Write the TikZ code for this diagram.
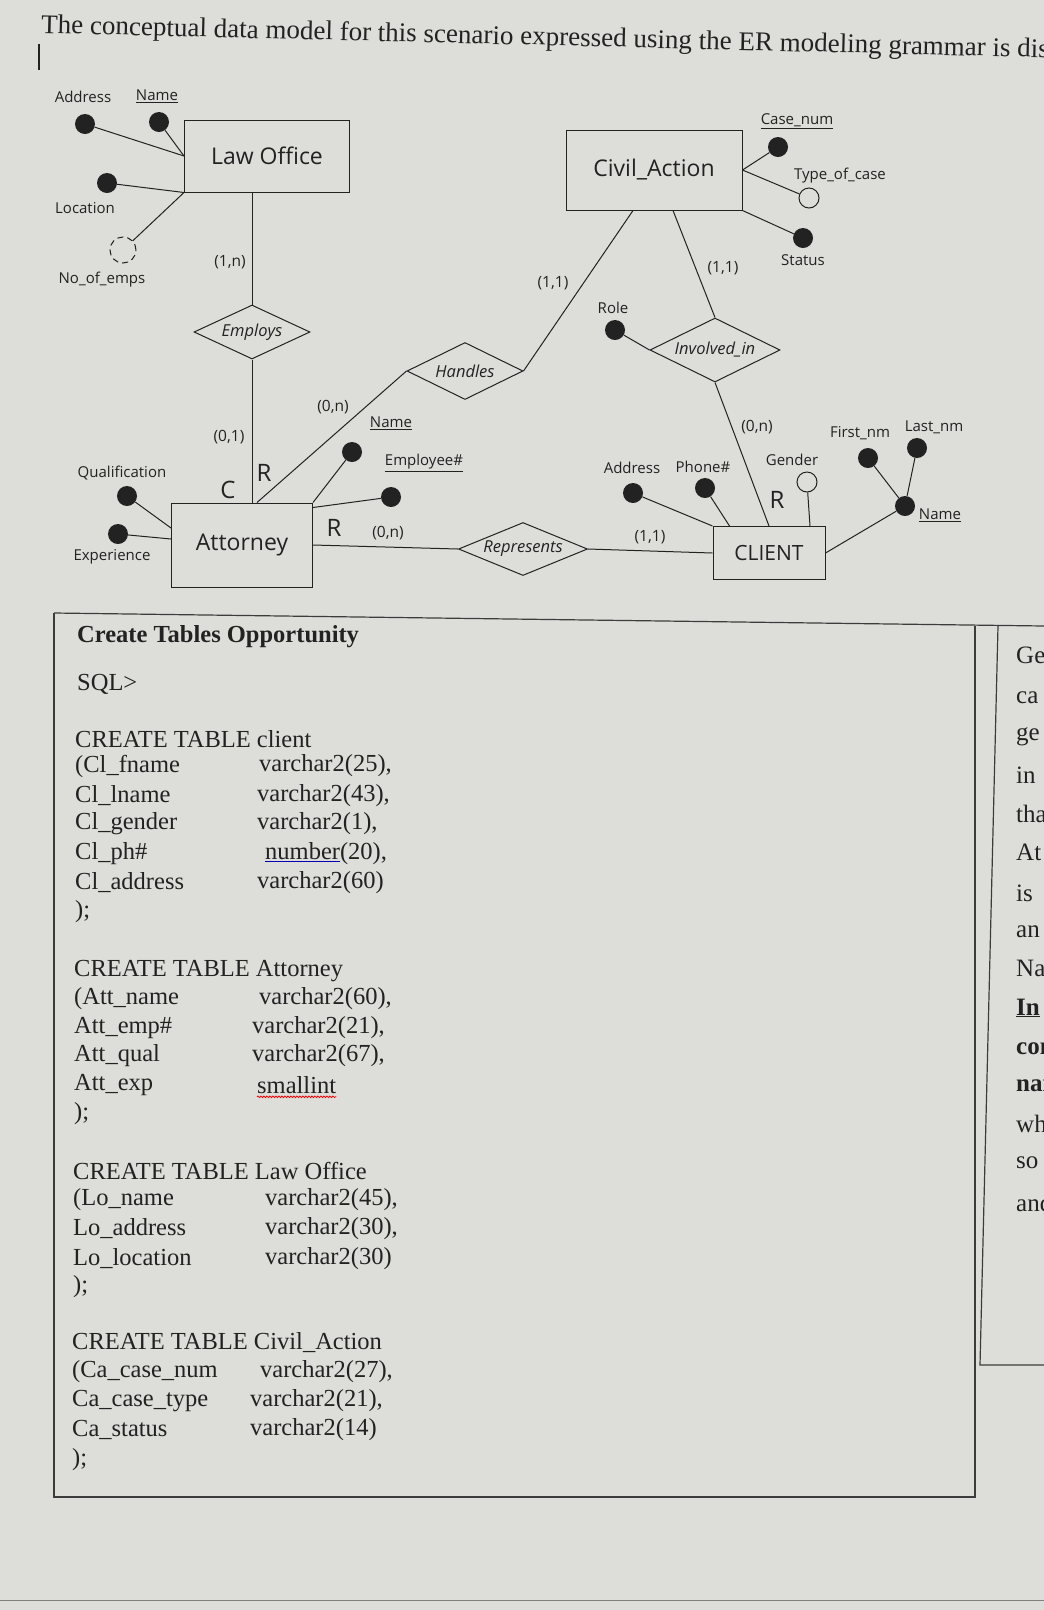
\documentclass[tikz,border=0pt]{standalone}
\usepackage{fontspec}
\setmainfont{Liberation Serif}
\newfontfamily\erfont{Open Sans}
\usepackage{tikz}
\usetikzlibrary{shapes.geometric, calc, decorations.pathmorphing}
\usepackage{xcolor}
\definecolor{screen}{RGB}{221,221,218}
\definecolor{ink}{RGB}{34,34,34}
\definecolor{frame}{RGB}{60,60,60}

\tikzset{
  entity/.style={draw=ink, line width=1pt, text=ink, font=\erfont\fontsize{23}{26}\selectfont},
  relship/.style={draw=ink, line width=1pt, shape=diamond, aspect=2.3, inner sep=0pt, text=ink, font=\erfont\itshape\fontsize{16.5}{19}\selectfont},
  keydot/.style={shape=circle, fill=ink, inner sep=0pt, minimum size=20pt},
  optdot/.style={shape=circle, draw=ink, line width=1pt, fill=screen, inner sep=0pt, minimum size=20pt},
  derdot/.style={shape=circle, draw=ink, line width=1pt, dash pattern=on 6pt off 4pt, inner sep=0pt, minimum size=26pt},
  lbl/.style={inner sep=0pt, text=ink, font=\erfont\fontsize{15}{17}\selectfont},
  card/.style={inner sep=0pt, text=ink, font=\erfont\fontsize{15.5}{17}\selectfont},
  rmark/.style={inner sep=0pt, text=ink, font=\erfont\fontsize{24}{26}\selectfont},
  erline/.style={draw=ink, line width=1pt},
  sqltxt/.style={anchor=west, inner sep=0pt, text=ink, font=\fontsize{24.5}{27}\selectfont},
  sidetxt/.style={anchor=west, inner sep=0pt, text=ink, font=\fontsize{25}{28}\selectfont},
}

\begin{document}
\begin{tikzpicture}[x=1pt, y=-1pt]
  \useasboundingbox (0,0) rectangle (1044,1610);
  \clip (0,0) rectangle (1044,1610);
  \fill[screen] (0,0) rectangle (1044,1610);
  \node[anchor=base west, inner sep=0pt, text=ink, rotate=-1.4, font=\fontsize{27}{30}\selectfont] (title) at (41,33) {The conceptual data model for this scenario expressed using the ER modeling grammar is dis};
  \draw[ink, line width=1.5pt] (39,44) -- (39,70);
%---------------------------------------------------------------------------
  \node[entity, minimum width=165pt, minimum height=72pt] (lawoffice) at (267,156) {Law Office};
  \node[keydot] (loaddr) at (85,124) {};
  \node[lbl] (loaddrl) at (83,97) {Address};
  \node[keydot] (loname) at (159,122) {};
  \node[lbl] (lonamel) at (157,96) {\underline{Name}};
  \node[keydot] (loloc) at (107,183) {};
  \node[lbl] (lolocl) at (85,208) {Location};
  \node[derdot] (loemps) at (123,250) {};
  \node[lbl] (loempsl) at (102,280) {No\_of\_emps};
  \draw[erline] (loaddr) -- (lawoffice.west);
  \draw[erline] (loname) -- (lawoffice.west);
  \draw[erline] (loloc) -- (lawoffice.south west);
  \draw[erline] (loemps) -- (lawoffice.south west);
%---------------------------------------------------------------------------
  \node[relship, minimum width=116pt, minimum height=54pt] (employs) at (252,332) {Employs};
  \node[entity, minimum width=141pt, minimum height=84pt] (attorney) at (242,545) {Attorney};
  \draw[erline] (lawoffice.south -| employs.north) -- (employs.north);
  \draw[erline] (employs.south) -- (employs.south |- attorney.north);
  \node[card] (empcard1) at (230,262) {(1,n)};
  \node[card] (empcard2) at (229,437) {(0,1)};
  \node[rmark] (cmark) at (228,490) {C};
  \node[rmark] (rmark1) at (264,473) {R};
  \node[keydot] (atqual) at (127,496) {};
  \node[lbl] (atquall) at (122,473) {Qualification};
  \node[keydot] (atexp) at (118,534) {};
  \node[lbl] (atexpl) at (112,557) {Experience};
  \node[keydot] (atname) at (352,452) {};
  \node[lbl] (atnamel) at (391,423) {\underline{Name}};
  \node[keydot] (atemp) at (391,497) {};
  \node[lbl] (ateml) at (424,463) {\underline{Employee\#}};
  \draw[erline] (atqual) -- ($(attorney.west)+(0,-17)$);
  \draw[erline] (atexp) -- ($(attorney.west)+(0,-6)$);
  \draw[erline] (atname) -- (attorney.north east);
  \draw[erline] (atemp) -- ($(attorney.north east)+(0,5)$);
%---------------------------------------------------------------------------
  \node[entity, minimum width=176pt, minimum height=80pt] (civil) at (654,170) {Civil\_Action};
  \node[keydot] (cacase) at (778,147) {};
  \node[lbl] (cacasel) at (797,121) {\underline{Case\_num}};
  \node[optdot] (catype) at (809,198) {};
  \node[lbl] (catypel) at (840,176) {Type\_of\_case};
  \node[keydot] (castat) at (803,238) {};
  \node[lbl] (castatl) at (803,260) {Status};
  \draw[erline] (cacase) -- (civil.east);
  \draw[erline] (catype) -- (civil.east);
  \draw[erline] (castat) -- (civil.south east);
%---------------------------------------------------------------------------
  \node[relship, minimum width=116pt, minimum height=57pt] (handles) at (465,371) {Handles};
  \draw[erline] ($(attorney.north)+(15,0)$) -- (handles.west);
  \draw[erline] (handles.east) -- ($(civil.south)+(-21,0)$);
  \node[card] (hancard1) at (333,407) {(0,n)};
  \node[card] (hancard2) at (553,283) {(1,1)};
%---------------------------------------------------------------------------
  \node[entity, minimum width=112pt, minimum height=53pt, font=\erfont\fontsize{21}{24}\selectfont] (client) at (769,553) {CLIENT};
  \node[relship, minimum width=130pt, minimum height=64pt] (involved) at (715,350) {Involved\_in};
  \node[keydot] (role) at (615,330) {};
  \node[lbl] (rolel) at (613,308) {Role};
  \draw[erline] ($(civil.south)+(19,0)$) -- (involved.north);
  \draw[erline] (role) -- (involved.west);
  \draw[erline] (involved.south) -- (client.north);
  \node[card] (invcard1) at (723,268) {(1,1)};
  \node[card] (invcard2) at (757,427) {(0,n)};
%---------------------------------------------------------------------------
  \node[relship, minimum width=129pt, minimum height=53pt] (represents) at (523,549) {Represents};
  \draw[erline] (attorney.east) -- (represents.west);
  \draw[erline] (represents.east) -- (client.west);
  \node[rmark] (rmark2) at (334,528) {R};
  \node[card] (repcard1) at (388,533) {(0,n)};
  \node[card] (repcard2) at (650,537) {(1,1)};
%---------------------------------------------------------------------------
  \node[keydot] (claddr) at (633,493) {};
  \node[lbl] (claddrl) at (632,468) {Address};
  \node[keydot] (clphone) at (705,488) {};
  \node[lbl] (clphonel) at (703,467) {Phone\#};
  \node[optdot] (clgender) at (807,482) {};
  \node[lbl] (clgenderl) at (792,460) {Gender};
  \node[rmark] (rmark3) at (777,500) {R};
  \node[keydot] (clname) at (905,506) {};
  \node[lbl] (clnamel) at (940,515) {\underline{Name}};
  \node[keydot] (clfirst) at (868,458) {};
  \node[lbl] (clfirstl) at (860,433) {First\_nm};
  \node[keydot] (cllast) at (917,448) {};
  \node[lbl] (cllastl) at (934,427) {Last\_nm};
  \draw[erline] (claddr) -- (client.north west);
  \draw[erline] (clphone) -- ($(client.north west)+(17,0)$);
  \draw[erline] (clgender) -- ($(client.north)+(41,0)$);
  \draw[erline] (clname) -- (client.east);
  \draw[erline] (clfirst) -- (clname);
  \draw[erline] (cllast) -- (clname);
%---------------------------------------------------------------------------
  \draw[frame, line width=1.2pt] (54,613) -- (1044,626);
  \draw[frame, line width=1.2pt] (54,613) -- (54,1497) -- (975,1497) -- (975,626);
  \draw[frame, line width=1.2pt] (998,626) -- (980,1365) -- (1044,1365);
  \draw[gray, line width=1pt] (0,1600) -- (1044,1600);
  \node[sqltxt, font=\bfseries\fontsize{24.5}{27}\selectfont] (sqlhead) at (77,637) {Create Tables Opportunity};
  \node[sqltxt] (sqlprompt) at (77,684) {SQL>};
  \node[sqltxt] (tclient) at (75,739) {CREATE TABLE client};
  \node[sqltxt] (c1) at (75,766) {(Cl\_fname};
  \node[sqltxt] (v1) at (259,766) {varchar2(25),};
  \node[sqltxt] (c2) at (75,796) {Cl\_lname};
  \node[sqltxt] (v2) at (257,796) {varchar2(43),};
  \node[sqltxt] (c3) at (75,824) {Cl\_gender};
  \node[sqltxt] (v3) at (257,824) {varchar2(1),};
  \node[sqltxt] (c4) at (75,854) {Cl\_ph\#};
  \node[sqltxt] (v4) at (265,854) {{\color{blue!70!black}\underline{\textcolor{ink}{number}}}(20),};
  \node[sqltxt] (c5) at (75,883) {Cl\_address};
  \node[sqltxt] (v5) at (257,883) {varchar2(60)};
  \node[sqltxt] (e1) at (75,912) {);};
%---------------------------------------------------------------------------
  \node[sqltxt] (tattorney) at (74,971) {CREATE TABLE Attorney};
  \node[sqltxt] (c6) at (74,999) {(Att\_name};
  \node[sqltxt] (v6) at (259,999) {varchar2(60),};
  \node[sqltxt] (c7) at (74,1028) {Att\_emp\#};
  \node[sqltxt] (v7) at (252,1028) {varchar2(21),};
  \node[sqltxt] (c8) at (74,1056) {Att\_qual};
  \node[sqltxt] (v8) at (252,1056) {varchar2(67),};
  \node[sqltxt] (c9) at (74,1085) {Att\_exp};
  \node[sqltxt] (v9) at (257,1085) {smallint};
  \draw[red, line width=0.8pt, decorate, decoration={snake, amplitude=0.8pt, segment length=3pt}] ($(v9.south west)+(0,3)$) -- ($(v9.south east)+(0,3)$);
  \node[sqltxt] (e2) at (74,1114) {);};
%---------------------------------------------------------------------------
  \node[sqltxt] (tlaw) at (73,1171) {CREATE TABLE Law Office};
  \node[sqltxt] (c10) at (73,1200) {(Lo\_name};
  \node[sqltxt] (v10) at (265,1200) {varchar2(45),};
  \node[sqltxt] (c11) at (73,1229) {Lo\_address};
  \node[sqltxt] (v11) at (265,1229) {varchar2(30),};
  \node[sqltxt] (c12) at (73,1259) {Lo\_location};
  \node[sqltxt] (v12) at (265,1259) {varchar2(30)};
  \node[sqltxt] (e3) at (73,1287) {);};
%---------------------------------------------------------------------------
  \node[sqltxt] (tcivil) at (72,1343) {CREATE TABLE Civil\_Action};
  \node[sqltxt] (c13) at (72,1372) {(Ca\_case\_num};
  \node[sqltxt] (v13) at (260,1372) {varchar2(27),};
  \node[sqltxt] (c14) at (72,1401) {Ca\_case\_type};
  \node[sqltxt] (v14) at (250,1401) {varchar2(21),};
  \node[sqltxt] (c15) at (72,1430) {Ca\_status};
  \node[sqltxt] (v15) at (250,1430) {varchar2(14)};
  \node[sqltxt] (e4) at (72,1460) {);};
%---------------------------------------------------------------------------
  \node[sidetxt] (s1) at (1016,655) {Ge};
  \node[sidetxt] (s2) at (1016,698) {ca};
  \node[sidetxt] (s3) at (1016,737) {ge};
  \node[sidetxt] (s4) at (1016,775) {in};
  \node[sidetxt] (s5) at (1016,814) {tha};
  \node[sidetxt] (s6) at (1016,852) {At};
  \node[sidetxt] (s7) at (1016,893) {is};
  \node[sidetxt] (s8) at (1016,932) {an};
  \node[sidetxt] (s9) at (1016,968) {Na};
  \node[sidetxt] (s10) at (1016,1008) {\textbf{\underline{In}}};
  \node[sidetxt] (s11) at (1016,1049) {\textbf{con}};
  \node[sidetxt] (s12) at (1016,1086) {\textbf{nam}};
  \node[sidetxt] (s13) at (1016,1124) {wh};
  \node[sidetxt] (s14) at (1016,1163) {so};
  \node[sidetxt] (s15) at (1016,1203) {and};
\end{tikzpicture}
\end{document}
